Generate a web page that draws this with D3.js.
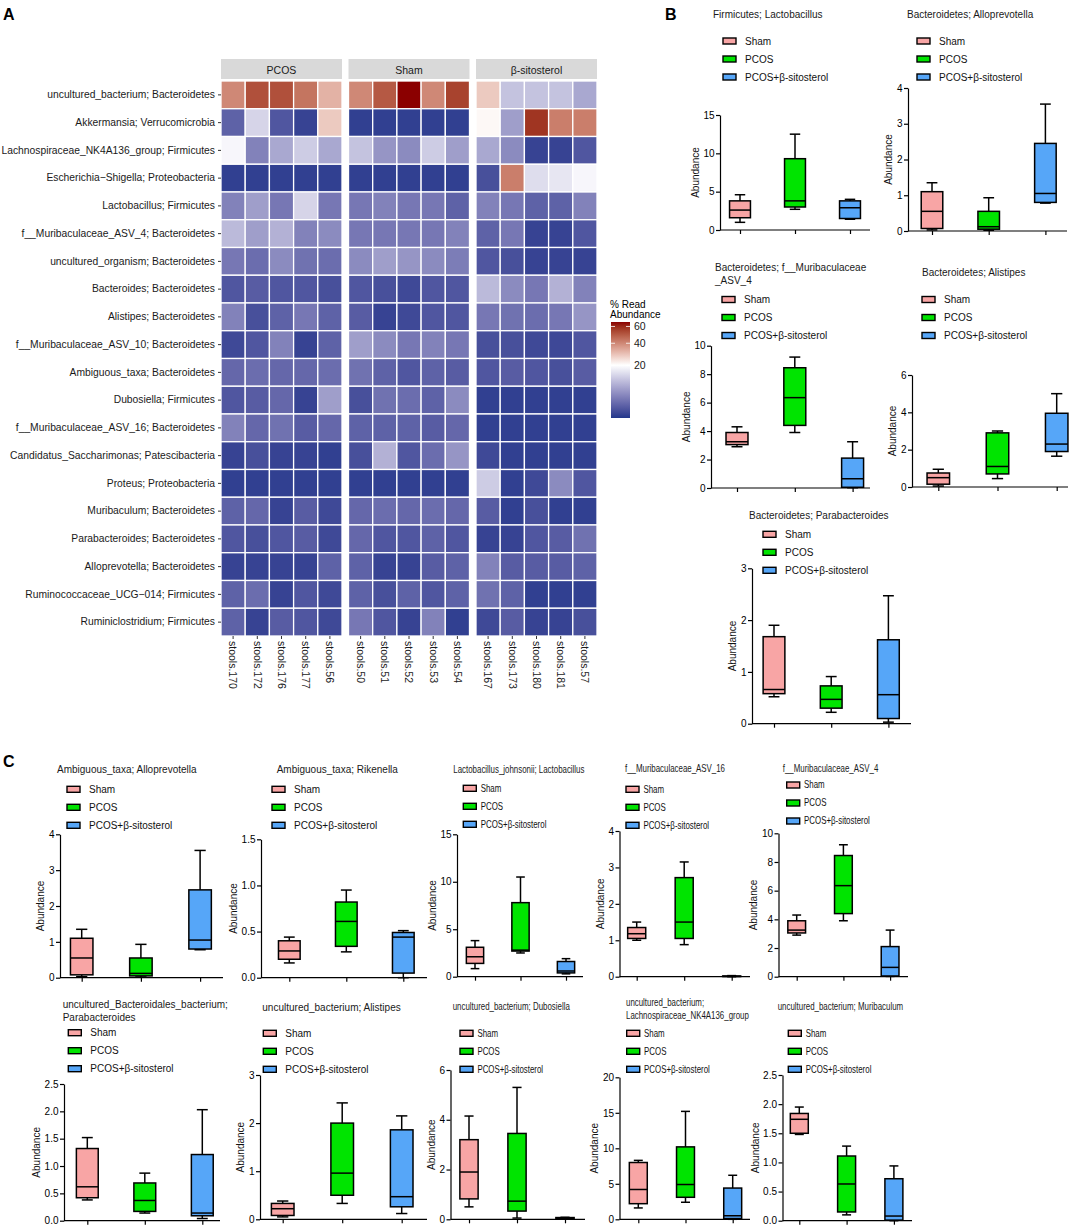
<!DOCTYPE html>
<html>
<head>
<meta charset="utf-8">
<script src="https://cdn.jsdelivr.net/npm/d3@7"></script>
<style>
  body { margin: 0; background: #fff; }
  text { font-family: "Liberation Sans", Arial, sans-serif; }
</style>
</head>
<body>
<svg id="fig" width="1084" height="1231"></svg>
<script>
// ---------- heatmap data (panel A) ----------
var taxa = [
  "uncultured_bacterium; Bacteroidetes", "Akkermansia; Verrucomicrobia",
  "Lachnospiraceae_NK4A136_group; Firmicutes", "Escherichia\u2212Shigella; Proteobacteria",
  "Lactobacillus; Firmicutes", "f__Muribaculaceae_ASV_4; Bacteroidetes",
  "uncultured_organism; Bacteroidetes", "Bacteroides; Bacteroidetes",
  "Alistipes; Bacteroidetes", "f__Muribaculaceae_ASV_10; Bacteroidetes",
  "Ambiguous_taxa; Bacteroidetes", "Dubosiella; Firmicutes",
  "f__Muribaculaceae_ASV_16; Bacteroidetes", "Candidatus_Saccharimonas; Patescibacteria",
  "Proteus; Proteobacteria", "Muribaculum; Bacteroidetes",
  "Parabacteroides; Bacteroidetes", "Alloprevotella; Bacteroidetes",
  "Ruminococcaceae_UCG\u2212014; Firmicutes", "Ruminiclostridium; Firmicutes"
];
var facets = ["PCOS", "Sham", "\u03b2-sitosterol"];
var samples = [
  ["stools.170", "stools.172", "stools.176", "stools.177", "stools.56"],
  ["stools.50", "stools.51", "stools.52", "stools.53", "stools.54"],
  ["stools.167", "stools.173", "stools.180", "stools.181", "stools.57"]
];
// % read abundance, one row per taxon, 15 samples (PCOS | Sham | beta-sitosterol)
var abundance = [
  [40, 52, 52, 44, 32, 40, 50, 66, 40, 55, 28, 10.5, 10.5, 10.5, 7.1],
  [1.16, 13, 0.63, 0.1, 28, 0.05, 0.05, 0.05, 0.05, 0.05, 21, 6, 58, 42, 42],
  [18.5, 3.3, 7.1, 11.7, 7.1, 10.5, 5.1, 4.1, 11.7, 6, 7.1, 4.1, 0.1, 0.1, 0.63],
  [0.05, 0.05, 0.05, 0.05, 0.05, 0.05, 0.05, 0.05, 0.05, 0.05, 0.4, 42, 14.3, 15.7, 18.5],
  [3.3, 6, 2.5, 13, 2.5, 2.5, 3.3, 2.5, 2.5, 1.16, 3.3, 2.5, 1.16, 1.16, 3.3],
  [9.3, 6, 8.2, 3.3, 4.1, 2.5, 2.5, 2.5, 2.5, 3.3, 1.16, 2.5, 0.1, 0.1, 0.63],
  [2.5, 1.8, 4.1, 2.1, 1.8, 4.1, 6, 5.1, 4.1, 2.9, 0.63, 0.4, 0.1, 0.1, 0.1],
  [0.63, 0.88, 0.63, 0.63, 0.4, 0.63, 0.4, 0.22, 0.63, 0.63, 9.3, 4.1, 2.5, 8.2, 3.3],
  [3.3, 0.4, 1.16, 2.5, 1.16, 0.88, 0.1, 0.22, 0.63, 0.63, 2.5, 2.1, 1.8, 2.5, 5.1],
  [0.22, 0.63, 3.3, 0.1, 1.16, 6, 4.1, 2.5, 3.3, 2.5, 0.4, 0.4, 0.22, 0.2, 0.63],
  [1.46, 1.8, 1.46, 1.46, 1.8, 2.1, 1.16, 0.63, 1.16, 0.88, 0.63, 0.88, 0.63, 0.4, 0.88],
  [0.63, 0.88, 1.46, 0.1, 6, 0.4, 2.1, 1.8, 1.16, 4.1, 0.05, 0.05, 0.05, 0.05, 0.05],
  [3.3, 1.46, 2.1, 0.88, 1.46, 1.16, 1.16, 1.16, 0.88, 1.46, 0.05, 0.05, 0.05, 0.05, 0.05],
  [0.1, 0.4, 0.1, 0.1, 0.05, 0.4, 8.2, 0.63, 1.8, 5.1, 0.22, 0.05, 0.05, 0.05, 0.05],
  [0.05, 0.05, 0.05, 0.05, 0.05, 0.05, 0.05, 0.05, 0.05, 0.05, 11.7, 0.05, 0.22, 4.1, 0.63],
  [1.16, 1.46, 0.1, 0.88, 0.22, 1.46, 1.8, 1.46, 1.8, 1.46, 0.88, 0.05, 0.4, 0.05, 0.05],
  [0.63, 0.4, 0.63, 0.88, 0.22, 1.46, 0.63, 0.63, 1.16, 0.63, 0.1, 0.1, 0.63, 0.88, 2.1],
  [0.1, 0.1, 0.1, 0.1, 1.16, 1.16, 0.1, 0.1, 0.88, 1.16, 3.3, 0.88, 0.88, 0.88, 1.16],
  [1.16, 1.8, 0.1, 0.63, 0.22, 1.16, 0.4, 1.16, 0.63, 1.16, 2.1, 1.16, 0.05, 0.05, 0.05],
  [1.16, 0.1, 0.88, 0.63, 0.22, 2.5, 0.63, 0.1, 3.3, 0.05, 0.22, 0.88, 0.1, 0.1, 0.4]
];
var legendTicks = [20, 40, 60];

// ---------- box plot data (panels B and C) ----------
// each group: [min, Q1, median, Q3, max]
var groups = ["Sham", "PCOS", "PCOS+\u03b2-sitosterol"];
var bLactobacillus = [[1.0, 1.6, 2.6, 3.8, 4.6], [2.7, 3.0, 3.8, 9.3, 12.5], [1.4, 1.5, 2.9, 3.8, 4.0]];
var bAlloprevotella = [[0.03, 0.07, 0.55, 1.1, 1.35], [0.02, 0.05, 0.12, 0.55, 0.93], [0.78, 0.8, 1.05, 2.45, 3.55]];
var bMuribaculaceae4 = [[2.9, 3.05, 3.25, 3.9, 4.3], [3.9, 4.4, 6.35, 8.45, 9.2], [0.02, 0.05, 0.65, 2.1, 3.25]];
var bAlistipes = [[0.05, 0.15, 0.5, 0.75, 0.95], [0.45, 0.7, 1.1, 2.9, 3.0], [1.65, 1.9, 2.3, 3.95, 5.0]];
var bParabacteroides = [[0.52, 0.58, 0.66, 1.68, 1.9], [0.22, 0.3, 0.47, 0.73, 0.91], [0.03, 0.1, 0.56, 1.62, 2.47]];
var cAlloprevotella = [[0.03, 0.08, 0.55, 1.1, 1.35], [0.02, 0.05, 0.12, 0.55, 0.93], [0.78, 0.8, 1.05, 2.45, 3.55]];
var cRikenella = [[0.16, 0.2, 0.29, 0.4, 0.44], [0.28, 0.34, 0.61, 0.82, 0.95], [0.0, 0.05, 0.44, 0.49, 0.51]];
var cJohnsonii = [[0.85, 1.4, 2.1, 3.1, 3.8], [2.5, 2.7, 2.8, 7.8, 10.5], [0.3, 0.4, 0.6, 1.6, 1.9]];
var cMuribaculaceae16 = [[1.0, 1.05, 1.18, 1.35, 1.5], [0.88, 1.05, 1.5, 2.72, 3.15], [0.0, 0.005, 0.01, 0.02, 0.03]];
var cMuribaculaceae4 = [[2.9, 3.05, 3.25, 3.9, 4.3], [3.9, 4.4, 6.35, 8.45, 9.2], [0.02, 0.05, 0.65, 2.1, 3.25]];
var cBacteroidales = [[0.38, 0.42, 0.62, 1.32, 1.52], [0.14, 0.17, 0.37, 0.69, 0.87], [0.04, 0.09, 0.14, 1.21, 2.03]];
var cAlistipes = [[0.05, 0.08, 0.22, 0.33, 0.38], [0.33, 0.5, 0.96, 2.0, 2.42], [0.12, 0.26, 0.47, 1.86, 2.15]];
var cDubosiella = [[0.5, 0.82, 1.9, 3.2, 4.15], [0.05, 0.33, 0.73, 3.45, 5.3], [0.02, 0.03, 0.05, 0.07, 0.08]];
var cLachnospiraceae = [[1.6, 2.2, 4.2, 8.0, 8.3], [2.4, 3.1, 4.9, 10.2, 15.2], [0.0, 0.1, 0.5, 4.4, 6.2]];
var cMuribaculum = [[1.48, 1.5, 1.74, 1.84, 1.95], [0.1, 0.15, 0.63, 1.11, 1.28], [0.0, 0.01, 0.08, 0.72, 0.94]];

var groupColors = ["#f8a5a5", "#00e400", "#56a6f8"];

var svg = d3.select("#fig");

// panel letters
[["A", 3, 20], ["B", 665, 20], ["C", 3, 767]].forEach(function(p) {
  svg.append("text").attr("x", p[1]).attr("y", p[2])
    .attr("font-size", 16).attr("font-weight", "bold").text(p[0]);
});

// ================= heatmap =================
var heat = svg.append("g");
var color = d3.scaleSqrt()
  .domain([0, 20, 66])
  .range(["#22378b", "#ffffff", "#8b0000"])
  .interpolate(d3.interpolateLab)
  .clamp(true);

var yRow = d3.scaleBand().domain(taxa).range([81, 636]);

facets.forEach(function(f, fi) {
  var x0 = 221 + fi * 127.5;
  var xCol = d3.scaleBand().domain(samples[fi]).range([x0, x0 + 121]);

  heat.append("rect").attr("x", x0).attr("y", 59).attr("width", 121).attr("height", 20)
    .attr("fill", "#d9d9d9");
  heat.append("text").attr("x", x0 + 60.5).attr("y", 69.5)
    .attr("text-anchor", "middle").attr("dominant-baseline", "central")
    .attr("font-size", 10.5).attr("fill", "#1a1a1a").text(f);

  taxa.forEach(function(t, ti) {
    heat.selectAll(null)
      .data(samples[fi])
      .enter()
      .append("rect")
      .attr("x", d => xCol(d))
      .attr("y", yRow(t))
      .attr("width", xCol.bandwidth())
      .attr("height", yRow.bandwidth())
      .attr("fill", (d, si) => color(abundance[ti][fi * 5 + si]))
      .attr("stroke", "#fff")
      .attr("stroke-width", 1.3);
  });

  // column labels
  var xg = heat.append("g").attr("transform", "translate(0,636)")
    .call(d3.axisBottom(xCol).tickSize(3).tickSizeOuter(0));
  xg.select(".domain").remove();
  xg.selectAll("line").attr("stroke", "#333");
  xg.selectAll("text")
    .attr("transform", "rotate(90)")
    .attr("x", 5).attr("y", 0).attr("dy", "0.35em")
    .style("text-anchor", "start")
    .attr("font-size", 10.5).attr("fill", "#1a1a1a")
    .attr("font-family", "Liberation Sans, Arial, sans-serif");
});

// row labels
var yg = heat.append("g").attr("transform", "translate(221,0)")
  .call(d3.axisLeft(yRow).tickSize(3).tickSizeOuter(0));
yg.select(".domain").remove();
yg.selectAll("line").attr("stroke", "#333");
yg.selectAll("text").attr("font-size", 10.3).attr("fill", "#1a1a1a")
  .attr("font-family", "Liberation Sans, Arial, sans-serif");

// colour bar legend
var barTop = 322, barBot = 418, barX = 611, barW = 19;
var yLeg = d3.scaleSqrt().domain([0, 66]).range([barBot, barTop]);
var grad = svg.append("defs").append("linearGradient")
  .attr("id", "cbar").attr("x1", 0).attr("y1", 1).attr("x2", 0).attr("y2", 0);
d3.range(0, 21).forEach(function(i) {
  var v = yLeg.invert(barBot - (barBot - barTop) * i / 20);
  grad.append("stop").attr("offset", (i * 5) + "%").attr("stop-color", color(v));
});
heat.append("rect").attr("x", barX).attr("y", barTop).attr("width", barW)
  .attr("height", barBot - barTop).attr("fill", "url(#cbar)");
legendTicks.forEach(function(v) {
  var yy = yLeg(v);
  heat.append("line").attr("x1", barX).attr("x2", barX + 4).attr("y1", yy).attr("y2", yy)
    .attr("stroke", "#fff").attr("stroke-width", 0.8);
  heat.append("line").attr("x1", barX + barW - 4).attr("x2", barX + barW).attr("y1", yy).attr("y2", yy)
    .attr("stroke", "#fff").attr("stroke-width", 0.8);
  heat.append("text").attr("x", barX + barW + 4).attr("y", yy)
    .attr("dominant-baseline", "central").attr("font-size", 10.5).attr("fill", "#1a1a1a").text(v);
});
heat.append("text").attr("x", 610).attr("y", 304).attr("font-size", 10)
  .attr("dominant-baseline", "central").text("% Read");
heat.append("text").attr("x", 610).attr("y", 314).attr("font-size", 10)
  .attr("dominant-baseline", "central").text("Abundance");

// ================= box plots =================
var charts = [
  { stats: bLactobacillus, title: ["Firmicutes; Lactobacillus"], tx: 713, ty: 14, lx: 723, ly: 41,
    ax: 720, ytop: 115, ybot: 230, ymax: 15, ystep: 5, fmt: "d", t1: 740, step: 55, axEnd: 870, sx: 1 },
  { stats: bAlloprevotella, title: ["Bacteroidetes; Alloprevotella"], tx: 907, ty: 14, lx: 917, ly: 41,
    ax: 908, ytop: 88, ybot: 231, ymax: 4, ystep: 1, fmt: "d", t1: 932, step: 56.7, axEnd: 1067, sx: 1 },
  { stats: bMuribaculaceae4, title: ["Bacteroidetes; f__Muribaculaceae", "_ASV_4"], tx: 715, ty: 267, lx: 722, ly: 299.5,
    ax: 711, ytop: 345.7, ybot: 488, ymax: 10, ystep: 2, fmt: "d", t1: 737, step: 57.8, axEnd: 870, sx: 1 },
  { stats: bAlistipes, title: ["Bacteroidetes; Alistipes"], tx: 922, ty: 272, lx: 922, ly: 299.5,
    ax: 912, ytop: 375, ybot: 487, ymax: 6, ystep: 2, fmt: "d", t1: 938.3, step: 59.2, axEnd: 1068, sx: 1 },
  { stats: bParabacteroides, title: ["Bacteroidetes; Parabacteroides"], tx: 749, ty: 515, lx: 763, ly: 534.3,
    ax: 752, ytop: 568.3, ybot: 723.7, ymax: 3, ystep: 1, fmt: "d", t1: 774, step: 57.2, axEnd: 911, sx: 1 },
  { stats: cAlloprevotella, title: ["Ambiguous_taxa; Alloprevotella"], tx: 57, ty: 769, lx: 67, ly: 789.3,
    ax: 60, ytop: 834.3, ybot: 977.7, ymax: 4, ystep: 1, fmt: "d", t1: 81.7, step: 59.2, axEnd: 223, sx: 1 },
  { stats: cRikenella, title: ["Ambiguous_taxa; Rikenella"], tx: 276.7, ty: 769, lx: 272, ly: 789.3,
    ax: 261, ytop: 839.3, ybot: 977.7, ymax: 1.5, ystep: 0.5, fmt: ".1f", t1: 289.3, step: 57, axEnd: 427, sx: 1 },
  { stats: cJohnsonii, title: ["Lactobacillus_johnsonii; Lactobacillus"], tx: 453.3, ty: 770, lx: 463.3, ly: 788.3,
    ax: 457, ytop: 834.3, ybot: 976.7, ymax: 15, ystep: 5, fmt: "d", t1: 475, step: 45.5, axEnd: 583, sx: 0.79 },
  { stats: cMuribaculaceae16, title: ["f__Muribaculaceae_ASV_16"], tx: 625, ty: 769, lx: 626, ly: 789.3,
    ax: 619.5, ytop: 831, ybot: 976.7, ymax: 4, ystep: 1, fmt: "d", t1: 636.7, step: 47.5, axEnd: 750, sx: 0.79 },
  { stats: cMuribaculaceae4, title: ["f__Muribaculaceae_ASV_4"], tx: 782.7, ty: 769, lx: 786.7, ly: 785,
    ax: 778.5, ytop: 833.3, ybot: 976.7, ymax: 10, ystep: 2, fmt: "d", t1: 796.7, step: 46.7, axEnd: 908, sx: 0.79 },
  { stats: cBacteroidales, title: ["uncultured_Bacteroidales_bacterium;", "Parabacteroides"], tx: 62.7, ty: 1004, lx: 68.3, ly: 1032.7,
    ax: 64, ytop: 1084, ybot: 1220.7, ymax: 2.5, ystep: 0.5, fmt: ".1f", t1: 87.3, step: 57.5, axEnd: 220, sx: 1 },
  { stats: cAlistipes, title: ["uncultured_bacterium; Alistipes"], tx: 262.3, ty: 1007, lx: 263.3, ly: 1033.3,
    ax: 260, ytop: 1075, ybot: 1219.3, ymax: 3, ystep: 1, fmt: "d", t1: 282.7, step: 59.5, axEnd: 427, sx: 1 },
  { stats: cDubosiella, title: ["uncultured_bacterium; Dubosiella"], tx: 452.7, ty: 1007, lx: 460, ly: 1033.3,
    ax: 450.5, ytop: 1070, ybot: 1219.3, ymax: 6, ystep: 2, fmt: "d", t1: 469, step: 48, axEnd: 585, sx: 0.79 },
  { stats: cLachnospiraceae, title: ["uncultured_bacterium;", "Lachnospiraceae_NK4A136_group"], tx: 626, ty: 1003, lx: 626.7, ly: 1033.3,
    ax: 619.5, ytop: 1077.3, ybot: 1219.3, ymax: 20, ystep: 5, fmt: "d", t1: 638.3, step: 47.2, axEnd: 750, sx: 0.79 },
  { stats: cMuribaculum, title: ["uncultured_bacterium; Muribaculum"], tx: 777.7, ty: 1007, lx: 788.3, ly: 1033.3,
    ax: 782.5, ytop: 1075, ybot: 1220.7, ymax: 2.5, ystep: 0.5, fmt: ".1f", t1: 799.3, step: 47.3, axEnd: 912, sx: 0.79 }
];

function squeezed(sel, x, y, sx) {
  return sel.attr("transform", "translate(" + x + "," + y + ") scale(" + sx + ",1)");
}

charts.forEach(function(c) {
  var g = svg.append("g");

  // title
  c.title.forEach(function(line, li) {
    squeezed(g.append("text"), c.tx, c.ty + li * 13, c.sx)
      .attr("dominant-baseline", "central").attr("font-size", 10).attr("fill", "#1a1a1a").text(line);
  });

  // legend
  groups.forEach(function(name, i) {
    var yy = c.ly + i * 18;
    g.append("rect").attr("x", c.lx).attr("y", yy - 3).attr("width", 13).attr("height", 6)
      .attr("fill", groupColors[i]).attr("stroke", "#000").attr("stroke-width", 1.4);
    squeezed(g.append("text"), c.lx + 22 * c.sx, yy, c.sx)
      .attr("dominant-baseline", "central").attr("font-size", 10).attr("fill", "#111").text(name);
  });

  var y = d3.scaleLinear().domain([0, c.ymax]).range([c.ybot, c.ytop]);
  var x = d3.scalePoint().domain(groups).range([c.t1, c.t1 + 2 * c.step]);
  var bw = c.step * 0.38;

  // y axis
  var ya = g.append("g").attr("transform", "translate(" + c.ax + ",0)")
    .call(d3.axisLeft(y)
      .tickValues(d3.range(0, c.ymax + c.ystep / 2, c.ystep))
      .tickFormat(d3.format(c.fmt))
      .tickSize(4).tickSizeOuter(0).tickPadding(1.5));
  ya.selectAll("path, line").attr("stroke", "#000").attr("stroke-width", 1.2);
  ya.selectAll("text").attr("font-size", 10).attr("fill", "#000")
    .attr("font-family", "Liberation Sans, Arial, sans-serif");

  // x axis
  var xa = g.append("g").attr("transform", "translate(0," + c.ybot + ")")
    .call(d3.axisBottom(x).tickSize(4).tickSizeOuter(0).tickFormat(""));
  xa.select(".domain").remove();
  xa.selectAll("line").attr("stroke", "#000").attr("stroke-width", 1.2);
  g.append("line").attr("x1", c.ax).attr("x2", c.axEnd).attr("y1", c.ybot).attr("y2", c.ybot)
    .attr("stroke", "#000").attr("stroke-width", 1.2);

  // axis title placed just left of the widest tick label
  var labLeft = d3.min(ya.selectAll("text").nodes(), n => n.getBBox().x) + c.ax;
  g.append("text")
    .attr("transform", "translate(" + (labLeft - 8) + "," + ((c.ytop + c.ybot) / 2) + ") rotate(-90)")
    .attr("text-anchor", "middle").attr("dominant-baseline", "central")
    .attr("font-size", 10).attr("fill", "#111").text("Abundance");

  // boxes
  var box = g.selectAll(".box").data(c.stats).enter().append("g");
  box.append("line")
    .attr("x1", (d, i) => x(groups[i])).attr("x2", (d, i) => x(groups[i]))
    .attr("y1", d => y(d[0])).attr("y2", d => y(d[4]))
    .attr("stroke", "#000").attr("stroke-width", 1.5);
  [0, 4].forEach(function(k) {
    box.append("line")
      .attr("x1", (d, i) => x(groups[i]) - bw / 4).attr("x2", (d, i) => x(groups[i]) + bw / 4)
      .attr("y1", d => y(d[k])).attr("y2", d => y(d[k]))
      .attr("stroke", "#000").attr("stroke-width", 1.5);
  });
  box.append("rect")
    .attr("x", (d, i) => x(groups[i]) - bw / 2)
    .attr("y", d => y(d[3]))
    .attr("width", bw)
    .attr("height", d => Math.max(y(d[1]) - y(d[3]), 0.5))
    .attr("fill", (d, i) => groupColors[i])
    .attr("stroke", "#000").attr("stroke-width", 1.5);
  box.append("line")
    .attr("x1", (d, i) => x(groups[i]) - bw / 2).attr("x2", (d, i) => x(groups[i]) + bw / 2)
    .attr("y1", d => y(d[2])).attr("y2", d => y(d[2]))
    .attr("stroke", "#000").attr("stroke-width", 1.5);
});
</script>
</body>
</html>
